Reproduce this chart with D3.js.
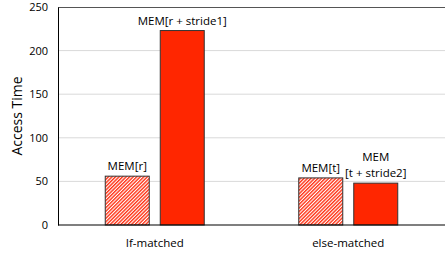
<!DOCTYPE html>
<html>
<head>
<meta charset="utf-8">
<script src="https://cdn.jsdelivr.net/npm/d3@7"></script>
<style>
body { margin: 0; background: #fff; }
text { font-family: "Open Sans", "Noto Sans", sans-serif; fill: #000; }
</style>
</head>
<body>
<svg id="chart" width="445" height="254"></svg>
<script>
var categories = ['If-matched', 'else-matched'];
var series = ['base', 'strided'];
var baseValues = [56, 54];
var stridedValues = [223, 48];
var barLabels = [
  [['MEM[r]'], ['MEM[r + stride1]']],
  [['MEM[t]'], ['MEM', '[t + stride2]']]
];
var yTicks = [0, 50, 100, 150, 200, 250];

var svg = d3.select('#chart');
var margin = {left: 58, right: 0, top: 7, bottom: 29};
var width = 445, height = 254;

var defs = svg.append('defs');
var pat = defs.append('pattern')
    .attr('id', 'hatch')
    .attr('patternUnits', 'userSpaceOnUse')
    .attr('width', 2.5).attr('height', 2.5)
    .attr('patternTransform', 'rotate(45)');
pat.append('rect').attr('width', 2.5).attr('height', 2.5).attr('fill', '#fff');
pat.append('rect').attr('width', 1.4).attr('height', 2.5).attr('fill', '#ff3214');

var x0 = d3.scaleBand().domain(categories)
    .range([margin.left, width - margin.right]);
var bw = x0.bandwidth();
var x1 = d3.scaleBand().domain(series)
    .range([bw / 2 - 49.5, bw / 2 + 49.5]).paddingInner(0.2);
var y = d3.scaleLinear().domain([0, 250]).range([height - margin.bottom, margin.top]);

// gridlines
svg.append('g').selectAll('line')
    .data(yTicks.filter(function (d) { return d > 0 && d < 250; }))
    .enter().append('line')
    .attr('x1', margin.left).attr('x2', width - margin.right)
    .attr('y1', function (d) { return y(d); })
    .attr('y2', function (d) { return y(d); })
    .attr('stroke', '#d9d9d9').attr('stroke-width', 1);

// top border
svg.append('line')
    .attr('x1', margin.left).attr('x2', width)
    .attr('y1', y(250) + 0.5).attr('y2', y(250) + 0.5)
    .attr('stroke', '#555').attr('stroke-width', 1);

// y axis
var yAxis = svg.append('g')
    .attr('transform', 'translate(' + margin.left + ',0)')
    .call(d3.axisLeft(y).tickValues(yTicks).tickSize(0).tickPadding(10));
yAxis.select('.domain').attr('stroke', '#000');
yAxis.selectAll('text').style('font-size', '11px')
    .style('font-family', '"Open Sans", sans-serif');

svg.append('text')
    .attr('transform', 'translate(22,' + ((y(0) + y(250)) / 2) + ') rotate(-90)')
    .attr('text-anchor', 'middle')
    .style('font-size', '14px')
    .text('Access Time');

var rows = categories.map(function (c, i) {
  return {cat: c, i: i, vals: [baseValues[i], stridedValues[i]]};
});

var groups = svg.append('g').selectAll('g')
    .data(rows).enter().append('g')
    .attr('transform', function (d) { return 'translate(' + x0(d.cat) + ',0)'; });

groups.selectAll('rect')
    .data(function (d) { return d.vals.map(function (v, j) { return {s: series[j], v: v}; }); })
    .enter().append('rect')
    .attr('x', function (d) { return x1(d.s); })
    .attr('y', function (d) { return y(d.v); })
    .attr('width', x1.bandwidth())
    .attr('height', function (d) { return y(0) - y(d.v); })
    .attr('fill', function (d) { return d.s === 'base' ? 'url(#hatch)' : '#ff2600'; })
    .attr('stroke', '#333').attr('stroke-width', 1);

groups.each(function (d) {
  var g = d3.select(this);
  d.vals.forEach(function (v, j) {
    var lines = barLabels[d.i][j];
    var cx = x1(series[j]) + x1.bandwidth() / 2;
    var t = g.append('text')
        .attr('text-anchor', 'middle')
        .style('font-size', '11.5px');
    lines.forEach(function (l, k) {
      t.append('tspan')
        .attr('x', cx)
        .attr('y', y(v) - 6 - (lines.length - 1 - k) * 16)
        .text(l);
    });
  });
});

// x axis
svg.append('line')
    .attr('x1', margin.left).attr('x2', width)
    .attr('y1', y(0)).attr('y2', y(0))
    .attr('stroke', '#000').attr('stroke-width', 1.2);

svg.append('g').selectAll('text')
    .data(categories).enter().append('text')
    .attr('x', function (d) { return x0(d) + bw / 2; })
    .attr('y', 247)
    .attr('text-anchor', 'middle')
    .style('font-size', '11.5px')
    .text(function (d) { return d; });
</script>
</body>
</html>
